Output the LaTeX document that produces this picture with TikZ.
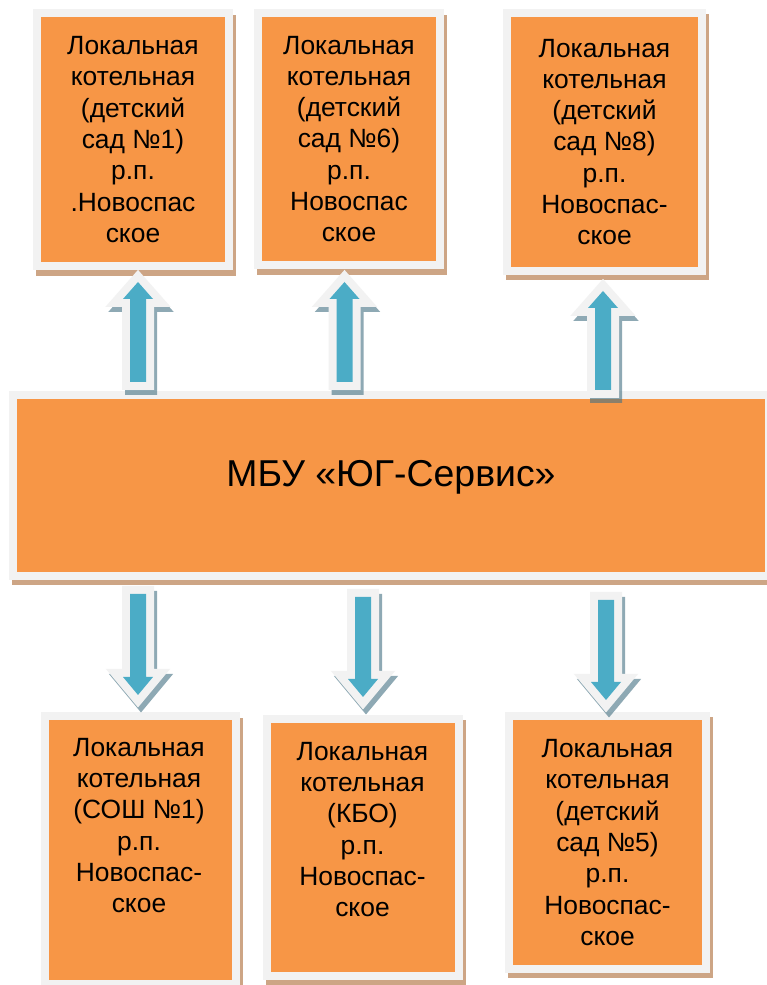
\documentclass[tikz,border=0pt]{standalone}
\usepackage{fontspec}
\setmainfont{Liberation Sans}
\usetikzlibrary{backgrounds}
\definecolor{boxorange}{HTML}{F79646}
\definecolor{framegray}{HTML}{F2F2F2}
\definecolor{shadowtan}{HTML}{CDA585}
\definecolor{arrowblue}{HTML}{4BACC6}
\definecolor{arrowshade}{HTML}{447082}
\newcommand\boxfont{\fontsize{26.4pt}{31.3pt}\selectfont}
\newcommand\titlefont{\fontsize{37.4pt}{42pt}\selectfont}
% block arrow: #1 tail, #2 tip, #3 direction (1 up, -1 down), #4 head length
\newcommand\blockarrow[4]{%
  \pgfmathsetmacro\baS{sqrt((#4)*(#4)+225)}%
  \pgfmathsetmacro\baX{(8*\baS+15*(#4)+120)/(#4)}%
  \pgfmathsetmacro\baT{(#3)*8*\baS/15}%
  \pgfmathsetmacro\baH{-(#3)*(#4)}%
  \pgfmathsetmacro\baHr{-(#3)*((#4)+8)}%
  \pgfmathsetmacro\baE{-(#3)*8}%
  \def\baRim##1##2{%
    \path[##1] ([shift={(##2)},xshift=-16pt,yshift=\baE pt]#1)
      -- ([shift={(##2)},xshift=-16pt,yshift=\baHr pt]#2)
      -- ([shift={(##2)},xshift=-\baX pt,yshift=\baHr pt]#2)
      -- ([shift={(##2)},yshift=\baT pt]#2)
      -- ([shift={(##2)},xshift=\baX pt,yshift=\baHr pt]#2)
      -- ([shift={(##2)},xshift=16pt,yshift=\baHr pt]#2)
      -- ([shift={(##2)},xshift=16pt,yshift=\baE pt]#1) -- cycle;}%
  \baRim{arrowshadowstyle}{3pt,-5pt}%
  \baRim{arrowrim}{0pt,0pt}%
  \path[arrowcore] ([xshift=-8pt]#1) -- ([xshift=-8pt,yshift=\baH pt]#2)
    -- ([xshift=-15pt,yshift=\baH pt]#2) -- (#2)
    -- ([xshift=15pt,yshift=\baH pt]#2) -- ([xshift=8pt,yshift=\baH pt]#2)
    -- ([xshift=8pt]#1) -- cycle;}
\tikzset{
  box/.style={fill=boxorange, draw=framegray, line width=8pt, inner sep=0pt,
    outer sep=4pt, align=center, font=\boxfont, text=black},
  boxtext/.style={inner sep=0pt, align=center, font=\boxfont, text=black},
  titletext/.style={inner sep=0pt, font=\titlefont, text=black},
  boxshadow/.style={fill=shadowtan},
  arrowshadowstyle/.style={fill=arrowshade, fill opacity=0.6},
  arrowrim/.style={fill=framegray},
  arrowcore/.style={fill=arrowblue}
}
\begin{document}
\begin{tikzpicture}[x=1pt,y=1pt]
\useasboundingbox (0,0) rectangle (767,985);
% boxes
\node[box, minimum width=192pt, minimum height=253pt] (A) at (133,845.5)
  {Локальная\\котельная\\(детский\\сад №1)\\р.п.\\.Новоспас\\ское};
\node[box, minimum width=182pt, minimum height=252pt] (B) at (349,846)
  {Локальная\\котельная\\(детский\\сад №6)\\р.п.\\Новоспас\\ское};
\node[box, minimum width=195pt, minimum height=258pt] (C) at (604.5,843)
  {Локальная\\котельная\\(детский\\сад №8)\\р.п.\\Новоспас-\\ское};
\node[box, minimum width=756pt, minimum height=181pt] (M) at (391,499.5) {};
\node[box, minimum width=191pt, minimum height=268pt] (D) at (140.5,135) {};
\node[box, minimum width=192pt, minimum height=257pt] (E) at (363,137.5) {};
\node[box, minimum width=197pt, minimum height=253pt] (F) at (607.5,142.5)
  {Локальная\\котельная\\(детский\\сад №5)\\р.п.\\Новоспас-\\ское};
% texts placed apart from centre
\node[titletext, anchor=base] (Mt) at (391,498) {МБУ «ЮГ-Сервис»};
\node[boxtext, anchor=north] (Dt) at (139,247)
  {Локальная\\котельная\\(СОШ №1)\\р.п.\\Новоспас-\\ское};
\node[boxtext, anchor=north] (Et) at (362.5,243)
  {Локальная\\котельная\\(КБО)\\р.п.\\Новоспас-\\ское};
% background and shadows of boxes
\begin{scope}[on background layer]
  \fill[white] (0,0) rectangle (767,985);
  \foreach \n/\dy in {A/-6pt,B/-6pt,C/-5pt,M/-5pt,D/-6pt,E/-5pt,F/-5pt}{
    \fill[boxshadow] ([shift={(3pt,\dy)}]\n.north west) rectangle ([shift={(3pt,\dy)}]\n.south east);
  }
\end{scope}
% arrow ends
\coordinate (u1a) at (138,603);   \coordinate (u1b) at (138,703);
\coordinate (u2a) at (344.5,603); \coordinate (u2b) at (344.5,703);
\coordinate (u3a) at (603,595);   \coordinate (u3b) at (603,694);
\coordinate (d1a) at (138,391);   \coordinate (d1b) at (138,290);
\coordinate (d2a) at (363,388);   \coordinate (d2b) at (363,288);
\coordinate (d3a) at (606,385);   \coordinate (d3b) at (606,285);
\blockarrow{u1a}{u1b}{1}{17}
\blockarrow{u2a}{u2b}{1}{17}
\blockarrow{u3a}{u3b}{1}{17}
\blockarrow{d1a}{d1b}{-1}{18}
\blockarrow{d2a}{d2b}{-1}{18}
\blockarrow{d3a}{d3b}{-1}{18}
\end{tikzpicture}
\end{document}
